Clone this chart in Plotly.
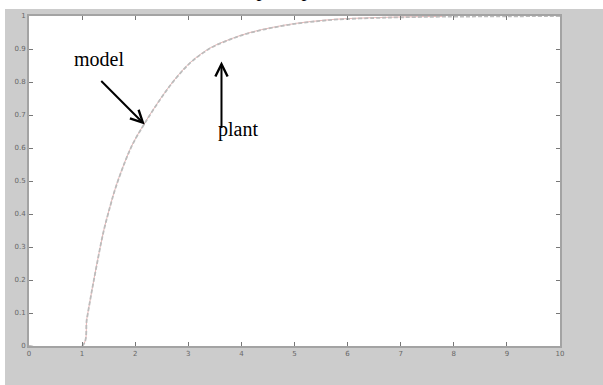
import plotly.graph_objects as go

# values
t_plant = [0, 1.0, 1.09, 1.18, 1.28, 1.40, 1.53, 1.63, 1.81, 1.96, 2.18, 2.47, 2.72,
           3.03, 3.41, 3.79, 4.16, 4.60, 5.04, 5.48, 5.86, 6.5, 7.0, 7.8]
y_plant = [0, 0, 0.084, 0.165, 0.250, 0.345, 0.425, 0.480, 0.560, 0.615, 0.676, 0.748, 0.803,
           0.858, 0.903, 0.930, 0.950, 0.966, 0.978, 0.986, 0.991, 0.995, 0.997, 0.999]
t_model = [0, 1.0, 1.09, 1.18, 1.28, 1.40, 1.53, 1.63, 1.81, 1.96, 2.18, 2.47, 2.72,
           3.03, 3.41, 3.79, 4.16, 4.60, 5.04, 5.48, 5.86, 6.5, 7.0, 7.8, 9.0, 10.0]
y_model = [0, 0, 0.082, 0.164, 0.249, 0.344, 0.424, 0.479, 0.559, 0.614, 0.675, 0.747, 0.802,
           0.857, 0.902, 0.929, 0.949, 0.965, 0.977, 0.985, 0.990, 0.994, 0.996, 0.998, 0.999, 1.0]
x_ticks = [0, 1, 2, 3, 4, 5, 6, 7, 8, 9, 10]
x_tick_text = ["0", "1", "2", "3", "4", "5", "6", "7", "8", "9", "10"]
y_ticks = [0, 0.1, 0.2, 0.3, 0.4, 0.5, 0.6, 0.7, 0.8, 0.9, 1.0]
y_tick_text = ["0", "0.1", "0.2", "0.3", "0.4", "0.5", "0.6", "0.7", "0.8", "0.9", "1"]

fig = go.Figure()
fig.add_trace(go.Scatter(x=t_plant, y=y_plant, mode="lines", name="plant",
                         line=dict(color="rgba(215,120,120,0.55)", width=1, shape="spline")))
fig.add_trace(go.Scatter(x=t_model, y=y_model, mode="lines", name="model",
                         line=dict(color="#bcbcbc", width=1.8, dash="4px,2px", shape="spline")))

serif = "Liberation Serif, Times New Roman, serif"
ann = [
    dict(x=1.318, y=0.871, xref="x", yref="y", text="model", showarrow=False,
         xanchor="center", yanchor="middle", font=dict(family=serif, size=20, color="black")),
    dict(x=3.936, y=0.656, xref="x", yref="y", text="plant", showarrow=False,
         xanchor="center", yanchor="middle", font=dict(family=serif, size=20, color="black")),
    dict(x=2.18, y=0.671, xref="x", yref="y", ax=-45, ay=-45, text="", showarrow=True,
         arrowhead=5, arrowsize=1.2, arrowwidth=2, arrowcolor="black"),
    dict(x=3.625, y=0.862, xref="x", yref="y", ax=0, ay=68, text="", showarrow=True,
         arrowhead=5, arrowsize=1.2, arrowwidth=2, arrowcolor="black"),
    dict(x=0.5, y=1.0, xref="paper", yref="paper", yanchor="bottom", yshift=13, xshift=-5,
         text="Step Response", showarrow=False,
         font=dict(family=serif, size=20, color="black")),
]

shapes = [
    dict(type="rect", xref="paper", yref="paper", x0=-0.06, x1=1.1, y0=1.0209, y1=1.05,
         fillcolor="white", line=dict(width=0), layer="below"),
    dict(type="rect", xref="paper", yref="paper", x0=-0.06, x1=-0.0452, y0=-0.2, y1=1.05,
         fillcolor="white", line=dict(width=0), layer="below"),
]

axis_common = dict(showgrid=False, zeroline=False, showline=True, linecolor="#a3a3a3",
                   linewidth=2, mirror="ticks", ticks="inside", ticklen=4, tickwidth=1,
                   tickcolor="#777", tickfont=dict(family="DejaVu Sans", size=7, color="#666"))

fig.update_layout(
    width=603, height=385,
    margin=dict(l=29, r=43, t=12, b=39),
    paper_bgcolor="#cccccc", plot_bgcolor="white",
    showlegend=False,
    annotations=ann, shapes=shapes,
    xaxis=dict(range=[0, 10], tickvals=x_ticks, ticktext=x_tick_text, **axis_common),
    yaxis=dict(range=[0, 1], tickvals=y_ticks, ticktext=y_tick_text, **axis_common),
)

fig.write_html("out.html", config={"displayModeBar": False},
               post_script="document.body.style.margin='0';document.body.style.overflow='hidden';")
